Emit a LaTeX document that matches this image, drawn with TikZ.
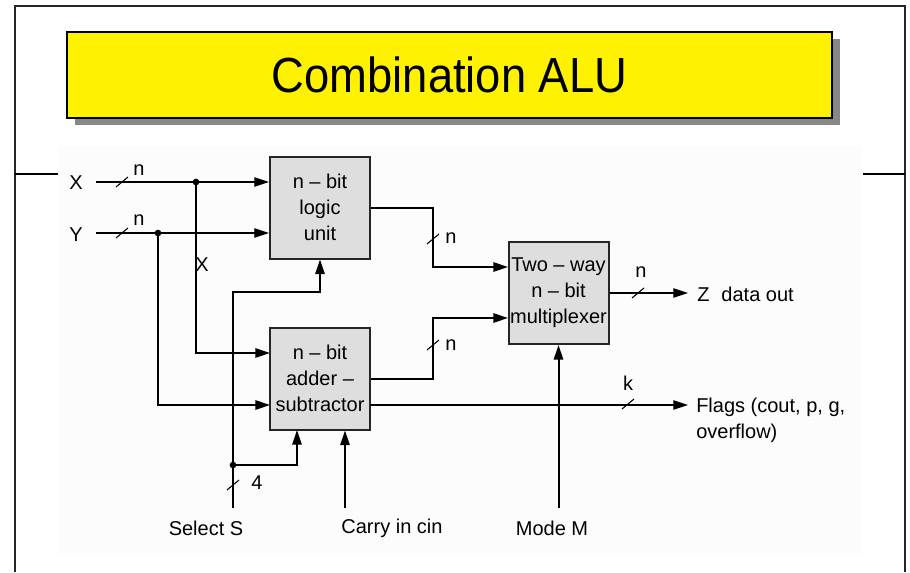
\documentclass[tikz,border=0pt]{standalone}
\usepackage{fontspec}
\setmainfont{Liberation Sans}
\usetikzlibrary{arrows.meta}
\begin{document}
\begin{tikzpicture}[x=0.75pt,y=-0.75pt,
  font=\fontsize{15}{19.5}\selectfont,
  blk/.style={draw=black!85,line width=1.5pt,fill=black!13,minimum width=75pt,minimum height=76.5pt,inner sep=0pt,align=center},
  thinw/.style={line width=0.8pt},
  thickw/.style={line width=1.5pt},
  tri/.style={-{Triangle[length=11pt,width=7pt]}},
  dot/.style={circle,fill=black,inner sep=0pt,minimum size=5pt},
  lbl/.style={inner sep=0pt},
  buscut/.pic={\draw[line width=0.8pt] (-6,5) -- (6,-5);},
  framew/.style={line width=1.1pt,draw=black!85}]
\useasboundingbox (0,0) rectangle (910,572);
% background and frame
\fill[black!1] (58,146) rectangle (862,555);
\draw[framew] (15,572) -- (15,6) -- (905,6) -- (905,572);
\draw[thinw] (15,174) -- (58,174);
\draw[thinw] (863,174) -- (905,174);
% title
\fill[black!47] (75,39) rectangle (840,125);
\node[draw=black,line width=0.8pt,fill=yellow,minimum width=573.75pt,minimum height=64.5pt,inner sep=0pt,font=\fontsize{37}{40}\selectfont] (title) at (449.5,75) {\scalebox{0.92}[1]{Combination ALU}};
% blocks
\node[blk] (logic) at (320,207.5) {n – bit\\logic\\unit};
\node[blk] (adder) at (320,378.5) {n – bit\\adder –\\subtractor};
\node[blk] (mux) at (558.5,293) {Two – way\\n – bit\\multiplexer};
% inputs
\node[lbl] (xl) at (76,183) {X};
\node[lbl] (yl) at (76,235) {Y};
\coordinate (xin) at (96,182);
\coordinate (xj) at (196,182);
\coordinate (yin) at (96,233);
\coordinate (yj) at (158,233);
\coordinate (ax) at (270,353);
\coordinate (ay) at (270,405);
\draw[thinw,tri] (xin) -- (xin -| logic.west);
\draw[thinw,tri] (yin) -- (yin -| logic.west);
\draw[thickw,tri] (xj) |- (ax);
\draw[thickw,tri] (yj) |- (ay);
\node[dot] (dx) at (xj) {};
\node[dot] (dy) at (yj) {};
\pic at (122,182) {buscut};
\pic at (122,233) {buscut};
\node[lbl] (nx) at (139,170) {n};
\node[lbl] (ny) at (139,220) {n};
\node[lbl] (xlab) at (202,265) {X};
% select
\coordinate (sbot) at (233,508);
\coordinate (scor) at (233,292);
\coordinate (sj) at (233,465);
\coordinate (asel) at (297,430);
\draw[thickw,tri] (sbot) -- (scor) -| (logic.south);
\draw[thickw,tri] (sj) -| (asel);
\node[dot] (ds) at (sj) {};
\pic at (233,485) {buscut};
\node[lbl] (s4) at (257,483) {4};
\node[lbl] (sel) at (206,528) {Select S};
% carry
\coordinate (cbot) at (345,508);
\draw[thickw,tri] (cbot) -- (cbot |- adder.south);
\node[lbl] (carry) at (392,528) {Carry in cin};
% mode
\coordinate (mbot) at (558.5,508);
\draw[thickw,tri] (mbot) -- (mux.south);
\node[lbl] (mode) at (552,528) {Mode M};
% to mux
\coordinate (b1) at (433,240);
\coordinate (m1) at (508,267);
\coordinate (b2) at (433,345);
\coordinate (m2) at (508,318);
\draw[thickw,tri] (logic.east) -| (b1) |- (m1);
\draw[thickw,tri] (adder.east) -| (b2) |- (m2);
\pic at (433,239) {buscut};
\pic at (433,345) {buscut};
\node[lbl] (nl) at (451,238) {n};
\node[lbl] (na) at (451,345) {n};
% outputs
\node[lbl,anchor=west] (zout) at (697,294) {Z\hspace{0.6em}data out};
\coordinate (zend) at (688,293);
\draw[thinw,tri] (mux.east) -- (zend);
\pic at (638,293) {buscut};
\node[lbl] (nz) at (641,272) {n};
\coordinate (af) at (370,405);
\coordinate (fend) at (688,405);
\draw[thinw,tri] (af) -- (fend);
\pic at (628,404) {buscut};
\node[lbl] (kf) at (628,383) {k};
\node[lbl,anchor=north west,align=left] (flags) at (696,398) {Flags (cout, p, g,\\overflow)};
\end{tikzpicture}
\end{document}
